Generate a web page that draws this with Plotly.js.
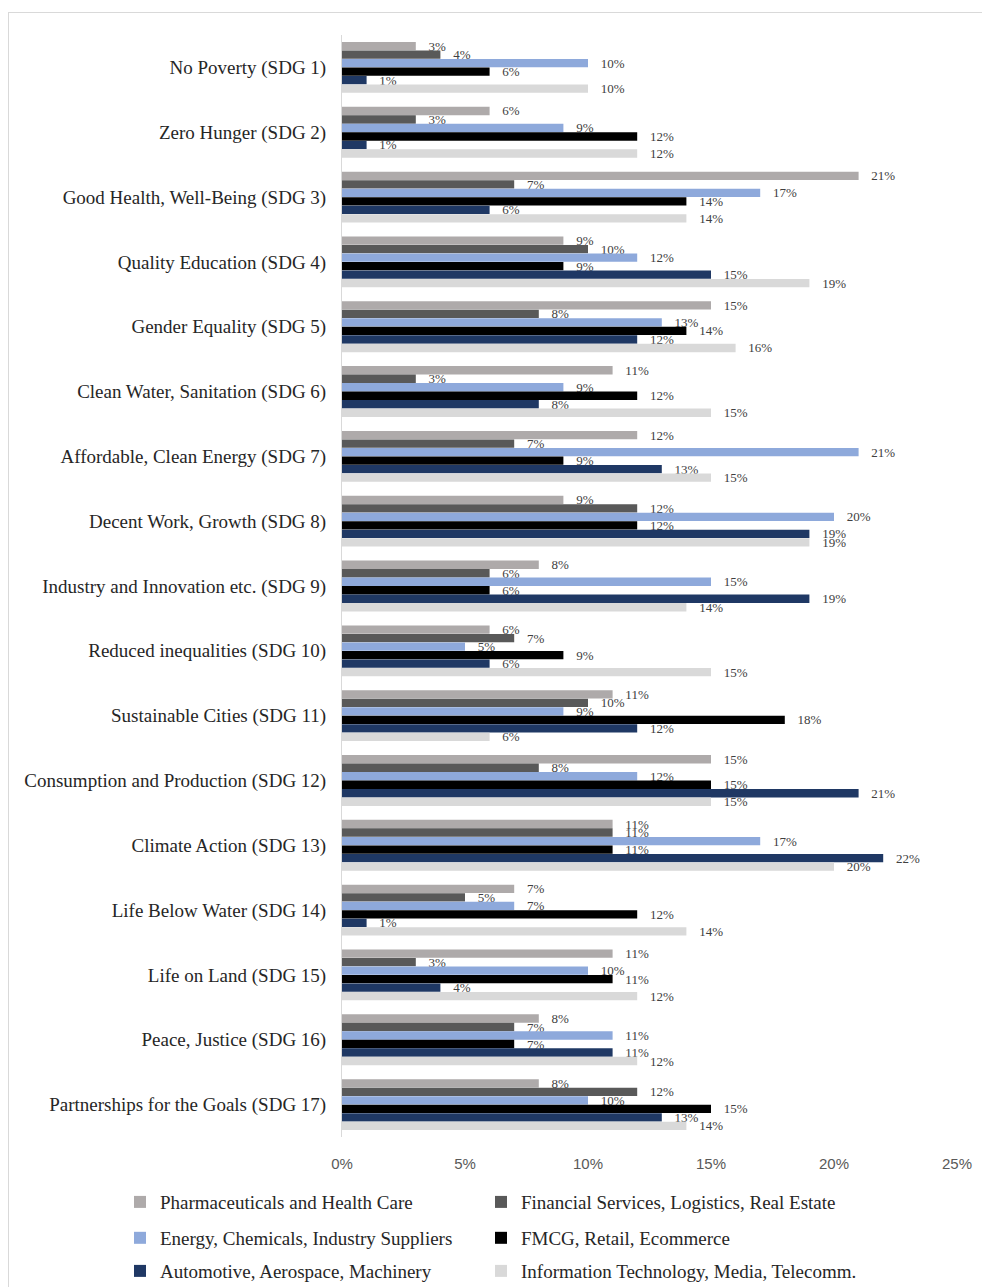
<!DOCTYPE html>
<html>
<head>
<meta charset="utf-8">
<script src="https://cdn.plot.ly/plotly-3.0.1.min.js"></script>
<style>
html,body{margin:0;padding:0;background:#fff;}
#frame{position:absolute;left:8px;top:12px;width:990px;height:1290px;border:1px solid #d9d9d9;box-sizing:border-box;}
#chart{position:absolute;left:0;top:0;width:982px;height:1287px;}
</style>
</head>
<body>
<div id="frame"></div>
<div id="chart"></div>
<script>
const categories = [
  "No Poverty (SDG 1)", "Zero Hunger (SDG 2)", "Good Health, Well-Being (SDG 3)",
  "Quality Education (SDG 4)", "Gender Equality (SDG 5)", "Clean Water, Sanitation (SDG 6)",
  "Affordable, Clean Energy (SDG 7)", "Decent Work, Growth (SDG 8)",
  "Industry and Innovation etc. (SDG 9)", "Reduced inequalities (SDG 10)",
  "Sustainable Cities (SDG 11)", "Consumption and Production (SDG 12)",
  "Climate Action (SDG 13)", "Life Below Water (SDG 14)", "Life on Land (SDG 15)",
  "Peace, Justice (SDG 16)", "Partnerships for the Goals (SDG 17)"
];
const seriesNames = [
  "Pharmaceuticals and Health Care",
  "Financial Services, Logistics, Real Estate",
  "Energy, Chemicals, Industry Suppliers",
  "FMCG, Retail, Ecommerce",
  "Automotive, Aerospace, Machinery",
  "Information Technology, Media, Telecomm."
];
const pharma     = [3, 6, 21, 9, 15, 11, 12, 9, 8, 6, 11, 15, 11, 7, 11, 8, 8];
const financial  = [4, 3, 7, 10, 8, 3, 7, 12, 6, 7, 10, 8, 11, 5, 3, 7, 12];
const energy     = [10, 9, 17, 12, 13, 9, 21, 20, 15, 5, 9, 12, 17, 7, 10, 11, 10];
const fmcg       = [6, 12, 14, 9, 14, 12, 9, 12, 6, 9, 18, 15, 11, 12, 11, 7, 15];
const automotive = [1, 1, 6, 15, 12, 8, 13, 19, 19, 6, 12, 21, 22, 1, 4, 11, 13];
const infotech   = [10, 12, 14, 19, 16, 15, 15, 19, 14, 15, 6, 15, 20, 14, 12, 12, 14];
const xTicks = [0, 5, 10, 15, 20, 25];
const xTickLabels = ["0%", "5%", "10%", "15%", "20%", "25%"];

const seriesValues = [pharma, financial, energy, fmcg, automotive, infotech];
const colors = ["#AEAAAA", "#595959", "#8EA9DB", "#000000", "#1F3864", "#D9D9D9"];
const legendIds = ["legend", "legend2", "legend3", "legend4", "legend5", "legend6"];
// legend grid: column x (paper fraction) and row y (container fraction)
const legendCols = [-0.361, 0.226];
const legendRows = [0.066, 0.0381, 0.0124];

const serif = "Liberation Serif, Times New Roman, serif";

const traces = seriesValues.map((vals, i) => ({
  type: "bar",
  orientation: "h",
  name: seriesNames[i],
  y: categories,
  x: vals,
  marker: {color: colors[i]},
  text: vals.map(v => "\u00a0\u00a0\u00a0" + v + "%"),
  texttemplate: "%{text}",
  textposition: "outside",
  constraintext: "none",
  cliponaxis: false,
  textfont: {family: serif, size: 13, color: "#404040"},
  legend: legendIds[i],
  hoverinfo: "skip"
}));

const layout = {
  width: 982,
  height: 1287,
  margin: {l: 342, r: 25, t: 35, b: 150},
  paper_bgcolor: "rgba(0,0,0,0)",
  plot_bgcolor: "rgba(0,0,0,0)",
  barmode: "group",
  bargap: 0.213,
  bargroupgap: 0.02,
  showlegend: true,
  xaxis: {
    range: [0, 25],
    tickvals: xTicks,
    ticktext: xTickLabels,
    showgrid: false,
    zeroline: false,
    showline: false,
    ticks: "",
    ticklabelstandoff: 16,
    tickfont: {family: "Liberation Sans, Arial, sans-serif", size: 15, color: "#595959"}
  },
  yaxis: {
    type: "category",
    autorange: "reversed",
    showgrid: false,
    zeroline: false,
    showline: true,
    linecolor: "#D9D9D9",
    linewidth: 1,
    ticks: "",
    ticklabelstandoff: 11,
    tickfont: {family: serif, size: 19, color: "#262626"}
  }
};

legendIds.forEach((id, i) => {
  layout[id] = {
    orientation: "v",
    xref: "paper",
    yref: "container",
    x: legendCols[i % 2],
    y: legendRows[Math.floor(i / 2)],
    xanchor: "left",
    yanchor: "middle",
    font: {family: serif, size: 19, color: "#262626"},
    bgcolor: "rgba(0,0,0,0)"
  };
});

Plotly.newPlot("chart", traces, layout, {displayModeBar: false, staticPlot: true});
</script>
</body>
</html>
